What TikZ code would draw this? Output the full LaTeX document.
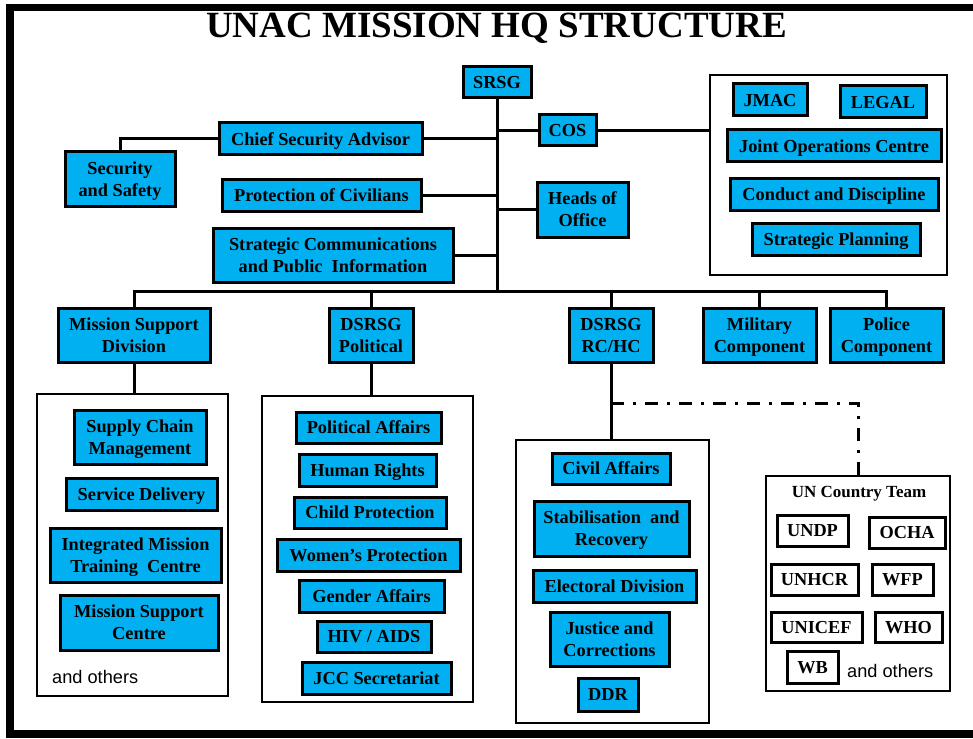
\documentclass[tikz,border=0pt]{standalone}
\usepackage{fontspec}
\setmainfont{Liberation Serif}
\newfontfamily\arialf{Liberation Sans}
\definecolor{boxblue}{RGB}{0,176,240}
\newcommand\boxfnt{\fontsize{18.3}{22}\selectfont\bfseries}
\begin{document}
\begin{tikzpicture}[x=1pt,y=-1pt,
  bbox/.style={draw=black, line width=3pt, fill=boxblue, inner sep=0pt, align=center, font=\boxfnt, text depth=0pt},
  wbox/.style={draw=black, line width=3pt, fill=white, inner sep=0pt, align=center, font=\boxfnt, text depth=0pt},
  cont/.style={draw=black, line width=2.4pt, inner sep=0pt},
  conn/.style={draw=black, line width=3pt},
  dashdotline/.style={draw=black, line width=3pt, dash pattern=on 13pt off 9pt on 3pt off 9pt},
  plain/.style={font=\arialf\fontsize{18.2}{22}\selectfont, inner sep=0pt}]
\useasboundingbox (0,0) rectangle (973,738);
% frame
\fill[black] (6,4) rectangle (973,11);
\fill[black] (6,4) rectangle (14,738);
\fill[black] (6,730) rectangle (973,738);
% title
\node[anchor=base, inner sep=0pt, font=\fontsize{37}{40}\selectfont\bfseries] (title) at (496.5,38) {UNAC MISSION HQ STRUCTURE};
% top level
\node[bbox, minimum width=68, minimum height=31] (SRSG) at (497,82.5) {SRSG};
\node[bbox, minimum width=203, minimum height=32] (CSA) at (320.5,139) {Chief Security Advisor};
\node[bbox, minimum width=110, minimum height=54] (SecS) at (120,179) {Security\\and Safety};
\node[bbox, minimum width=199, minimum height=32] (PoC) at (321.5,195) {Protection of Civilians};
\node[bbox, minimum width=240, minimum height=54] (SCPI) at (333,255) {Strategic Communications\\and Public\ \ Information};
\node[bbox, minimum width=57, minimum height=31] (COS) at (567.5,130.5) {COS};
\node[bbox, minimum width=91, minimum height=55] (HoO) at (582.5,209.5) {Heads of\\Office};
% right container
\node[cont, minimum width=237, minimum height=200] (RBox) at (828.5,175) {};
\node[bbox, minimum width=74, minimum height=32] (JMAC) at (770,100) {JMAC};
\node[bbox, minimum width=86, minimum height=32] (LEGAL) at (883,102) {LEGAL};
\node[bbox, minimum width=214, minimum height=32] (JOC) at (834,146) {Joint Operations Centre};
\node[bbox, minimum width=208, minimum height=32] (CaD) at (834,194) {Conduct and Discipline};
\node[bbox, minimum width=168, minimum height=32] (SP) at (836,239) {Strategic Planning};
% second row
\node[bbox, minimum width=152, minimum height=54] (MSD) at (134,335) {Mission Support\\Division};
\node[bbox, minimum width=84, minimum height=54] (DPol) at (371,335) {DSRSG\\Political};
\node[bbox, minimum width=84, minimum height=54] (RCHC) at (611,335) {DSRSG\\RC/HC};
\node[bbox, minimum width=113, minimum height=54] (Mil) at (759.5,335) {Military\\Component};
\node[bbox, minimum width=113, minimum height=54] (Pol) at (886.5,335) {Police\\Component};
% left container
\node[cont, minimum width=191, minimum height=302] (LBox) at (132.5,545) {};
\node[bbox, minimum width=132, minimum height=54] (SCM) at (140,437) {Supply Chain\\Management};
\node[bbox, minimum width=151, minimum height=32] (SD) at (141.5,494) {Service Delivery};
\node[bbox, minimum width=171, minimum height=54] (IMTC) at (135.5,555) {Integrated Mission\\Training\ \ Centre};
\node[bbox, minimum width=158, minimum height=55] (MSC) at (139,622.5) {Mission Support\\Centre};
\node[plain, anchor=west] (oth1) at (52,677) {and others};
% middle container
\node[cont, minimum width=211, minimum height=306] (MBox) at (367.5,549) {};
\node[bbox, minimum width=145, minimum height=31] (PA) at (368.5,427.5) {Political Affairs};
\node[bbox, minimum width=137, minimum height=32] (HR) at (367.5,470) {Human Rights};
\node[bbox, minimum width=152, minimum height=31] (CP) at (370,512.5) {Child Protection};
\node[bbox, minimum width=183, minimum height=32] (WP) at (368.5,555) {Women’s Protection};
\node[bbox, minimum width=145, minimum height=32] (GA) at (371.5,596) {Gender Affairs};
\node[bbox, minimum width=114, minimum height=31] (HIV) at (374,636.5) {HIV / AIDS};
\node[bbox, minimum width=149, minimum height=32] (JCC) at (376.5,678) {JCC Secretariat};
% RC/HC container
\node[cont, minimum width=193, minimum height=283] (CBox) at (612.5,581.5) {};
\node[bbox, minimum width=118, minimum height=31] (CA) at (611,468.5) {Civil Affairs};
\node[bbox, minimum width=155, minimum height=55] (SR) at (611.5,528.5) {Stabilisation\ \ and\\Recovery};
\node[bbox, minimum width=163, minimum height=32] (ED) at (614.5,586) {Electoral Division};
\node[bbox, minimum width=119, minimum height=54] (JC) at (609.5,639) {Justice and\\Corrections};
\node[bbox, minimum width=60, minimum height=33] (DDR) at (608,694.5) {DDR};
% UN country team
\node[cont, minimum width=184, minimum height=215] (UNCT) at (858,583.5) {};
\node[inner sep=0pt, font=\fontsize{17}{20}\selectfont\bfseries, text depth=0pt] (UNCTl) at (859,492) {UN Country Team};
\node[wbox, minimum width=71, minimum height=31] (UNDP) at (812.5,530.5) {UNDP};
\node[wbox, minimum width=76, minimum height=31] (OCHA) at (907,532.5) {OCHA};
\node[wbox, minimum width=87, minimum height=31] (UNHCR) at (814.5,579.5) {UNHCR};
\node[wbox, minimum width=61, minimum height=31] (WFP) at (902.5,579.5) {WFP};
\node[wbox, minimum width=91, minimum height=30] (UNICEF) at (816.5,627) {UNICEF};
\node[wbox, minimum width=67, minimum height=30] (WHO) at (908.5,627) {WHO};
\node[wbox, minimum width=51, minimum height=32] (WB) at (812.5,667) {WB};
\node[plain, anchor=west] (oth2) at (847,671) {and others};
% connectors
\coordinate (bus) at (0,291.5);
\coordinate (ddy) at (0,403);
\draw[conn] (SRSG.south) -- (SRSG.south |- bus);
\draw[conn] (MSD.north) |- (Pol.north |- bus) -- (Pol.north);
\draw[conn] (DPol.north) -- (DPol.north |- bus);
\draw[conn] (RCHC.north) -- (RCHC.north |- bus);
\draw[conn] (Mil.north) -- (Mil.north |- bus);
\draw[conn] (CSA.east) -- (CSA.east -| SRSG.south);
\draw[conn] (CSA.west) -| (SecS.north);
\draw[conn] (PoC.east) -- (PoC.east -| SRSG.south);
\draw[conn] (SCPI.east) -- (SCPI.east -| SRSG.south);
\draw[conn] (COS.west) -- (COS.west -| SRSG.south);
\draw[conn] (COS.east) -- (COS.east -| RBox.west);
\draw[conn] (HoO.west) -- (HoO.west -| SRSG.south);
\draw[conn] (MSD.south) -- (MSD.south |- LBox.north);
\draw[conn] (DPol.south) -- (DPol.south |- MBox.north);
\draw[conn] (RCHC.south) -- (RCHC.south |- CBox.north);
\draw[dashdotline] (RCHC.south |- ddy) -| (UNCT.north);
\end{tikzpicture}
\end{document}
